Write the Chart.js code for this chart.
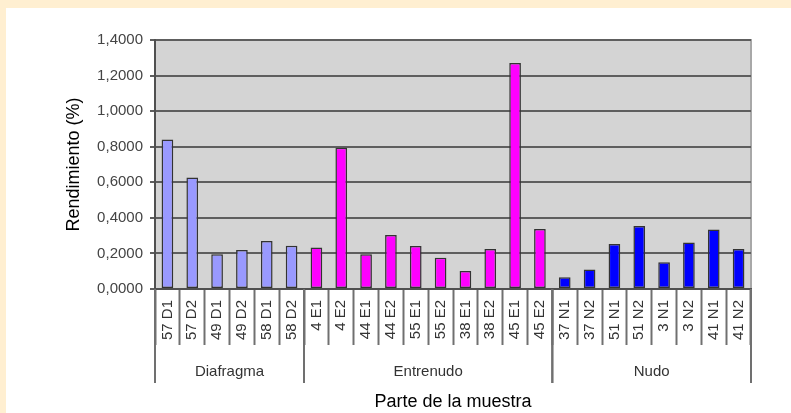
<!DOCTYPE html>
<html>
<head>
<meta charset="utf-8">
<script src="https://cdn.jsdelivr.net/npm/chart.js@4"></script>
<style>
  html, body { margin: 0; padding: 0; }
  body { background: #FFEFD1; width: 791px; height: 413px; position: relative; overflow: hidden; }
  #box { position: absolute; left: 6px; top: 8px; width: 785px; height: 405px; background: #fff; }
</style>
</head>
<body>
<div id="box"><canvas id="chart" width="785" height="405"></canvas></div>
<script>
// sample labels and values
const muestras = ['57 D1','57 D2','49 D1','49 D2','58 D1','58 D2',
  '4 E1','4 E2','44 E1','44 E2','55 E1','55 E2','38 E1','38 E2','45 E1','45 E2',
  '37 N1','37 N2','51 N1','51 N2','3 N1','3 N2','41 N1','41 N2'];
const rendimiento = [0.84, 0.627, 0.195, 0.219, 0.27, 0.243,
  0.234, 0.794, 0.195, 0.303, 0.242, 0.176, 0.101, 0.225, 1.271, 0.337,
  0.066, 0.11, 0.253, 0.354, 0.15, 0.262, 0.335, 0.225];
const grupos = ['Diafragma', 'Entrenudo', 'Nudo'];
const grupoSize = [6, 10, 8];
const grupoColor = ['#9999FF', '#FF00FF', '#0000FF'];

var barColors = [];
grupoSize.forEach((n, g) => { for (let i = 0; i < n; i++) barColors.push(grupoColor[g]); });

const font = 'Arial, "Liberation Sans", sans-serif';

// grey plot background + outline
const plotBg = {
  id: 'plotBg',
  beforeDraw(chart) {
    const { ctx, chartArea: a } = chart;
    ctx.save();
    ctx.fillStyle = '#D4D4D4';
    ctx.fillRect(a.left, a.top, a.right - a.left, a.bottom - a.top);
    ctx.strokeStyle = '#A8A8A8';
    ctx.lineWidth = 2;
    ctx.strokeRect(a.left, a.top, a.right - a.left, a.bottom - a.top);
    ctx.restore();
  }
};

// group separators and group names under the sample labels
const groupAxis = {
  id: 'groupAxis',
  afterDraw(chart) {
    const { ctx, chartArea: a } = chart;
    const x = chart.scales.x;
    const half = (x.getPixelForValue(1) - x.getPixelForValue(0)) / 2;
    ctx.save();
    ctx.strokeStyle = '#707070';
    ctx.lineWidth = 2;
    ctx.fillStyle = '#333';
    ctx.font = '15px ' + font;
    ctx.textAlign = 'center';
    ctx.textBaseline = 'middle';
    let start = 0;
    grupoSize.forEach((n, g) => {
      const x0 = x.getPixelForValue(start) - half;
      const x1 = x.getPixelForValue(start + n - 1) + half;
      [x0, x1].forEach(px => {
        ctx.beginPath();
        ctx.moveTo(px, a.bottom);
        ctx.lineTo(px, a.bottom + 94);
        ctx.stroke();
      });
      ctx.fillText(grupos[g], (x0 + x1) / 2, a.bottom + 83);
      start += n;
    });
    ctx.restore();
  }
};

new Chart(document.getElementById('chart'), {
  type: 'bar',
  data: {
    labels: muestras,
    datasets: [{
      label: 'Rendimiento',
      data: rendimiento,
      backgroundColor: barColors,
      borderColor: '#333',
      borderWidth: 1.5,
      borderSkipped: false,
      categoryPercentage: 1,
      barPercentage: 0.47
    }]
  },
  options: {
    responsive: false,
    animation: false,
    layout: { padding: { left: 53, right: 40, top: 32, bottom: 0 } },
    plugins: {
      legend: { display: false },
      tooltip: { enabled: false }
    },
    scales: {
      x: {
        afterFit: s => { s.height = 124; },
        grid: {
          drawOnChartArea: false,
          offset: true,
          tickLength: 56,
          tickColor: '#707070',
          tickWidth: 2
        },
        border: { color: '#505050', width: 2 },
        ticks: {
          minRotation: 90,
          maxRotation: 90,
          autoSkip: false,
          padding: -45,
          color: '#333',
          font: { family: font, size: 15 }
        },
        title: {
          display: true,
          text: 'Parte de la muestra',
          color: '#000',
          padding: { top: 0, bottom: 0 },
          font: { family: font, size: 18 }
        }
      },
      y: {
        min: 0,
        max: 1.4,
        afterFit: s => { s.width = 96; },
        grid: {
          color: '#5E5E5E',
          lineWidth: 2,
          tickLength: 5,
          drawTicks: true
        },
        border: { color: '#505050', width: 2 },
        ticks: {
          stepSize: 0.2,
          padding: 7,
          color: '#444',
          font: { family: font, size: 15 },
          callback: v => v.toFixed(4).replace('.', ',')
        },
        title: {
          display: true,
          text: 'Rendimiento (%)',
          color: '#000',
          padding: { top: 4, bottom: 0 },
          font: { family: font, size: 18 }
        }
      }
    }
  },
  plugins: [plotBg, groupAxis]
});
</script>
</body>
</html>
